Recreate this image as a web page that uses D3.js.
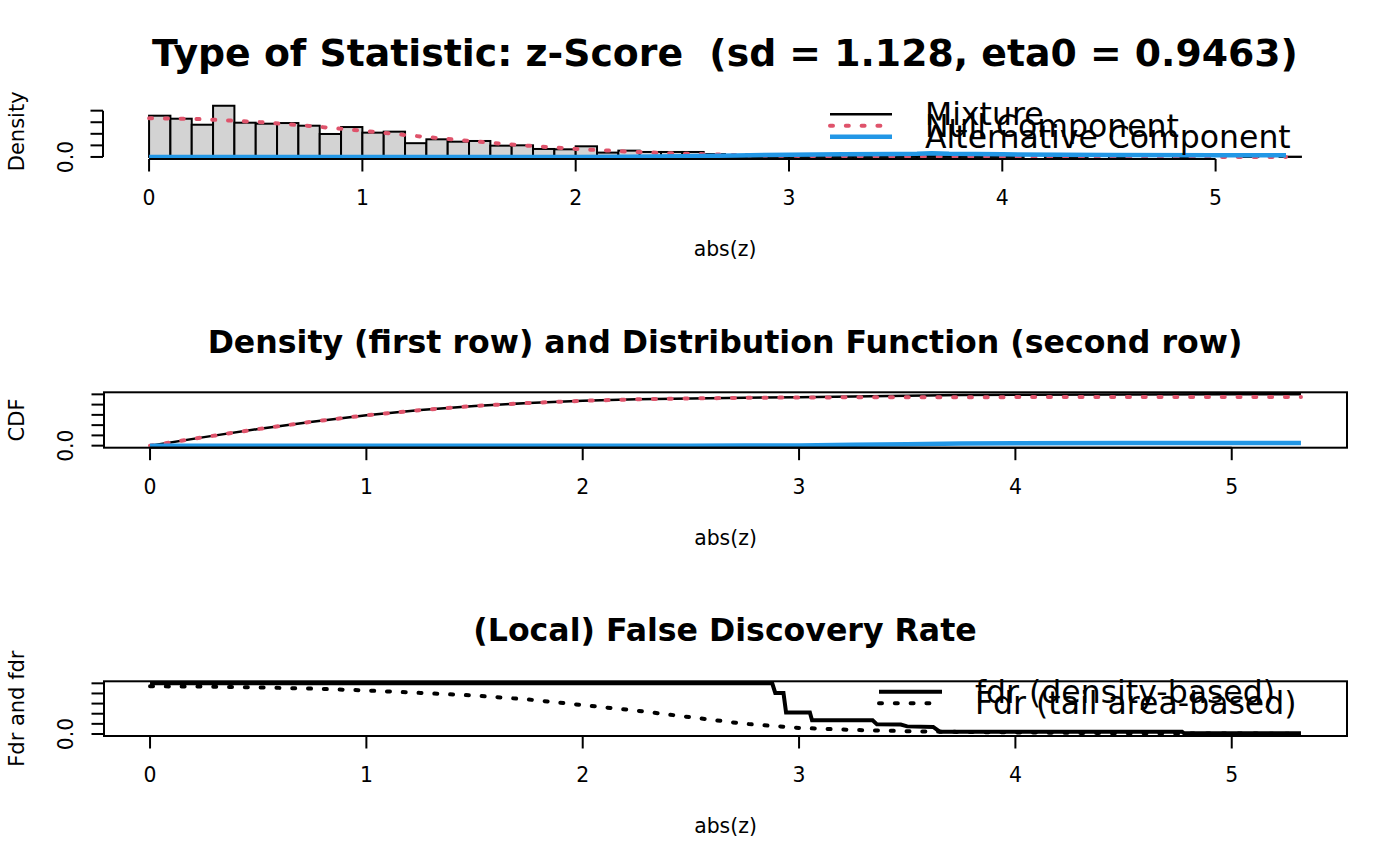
<!DOCTYPE html>
<html>
<head>
<meta charset="utf-8">
<script src="https://cdn.jsdelivr.net/npm/d3@7"></script>
<style>
  body { margin: 0; background: #fff; }
  svg { display: block; font-family: "DejaVu Sans", sans-serif; }
  text { white-space: pre; }
</style>
</head>
<body>
<div id="chart"></div>
<script>
// ---- data ----
var histBreaks = d3.range(0, 55).map(function(i) { return +(i * 0.1).toFixed(1); });
var histDensity = [0.713, 0.661, 0.557, 0.885, 0.592, 0.575, 0.586, 0.540, 0.397, 0.517,
                   0.420, 0.437, 0.238, 0.305, 0.264, 0.276, 0.195, 0.201, 0.138, 0.132,
                   0.184, 0.075, 0.109, 0.086, 0.086, 0.086, 0.050, 0.030, 0.045, 0.015,
                   0.045, 0.020, 0.010, 0.020, 0.030, 0.020, 0.030, 0.010, 0.020, 0.010,
                   0.005, 0.000, 0.005, 0.005, 0.000, 0.005, 0.000, 0.000, 0.005, 0.000,
                   0.000, 0.005, 0.000, 0.005];

var densZ    = [0, 0.25, 0.5, 0.75, 1, 1.25, 1.5, 1.75, 2, 2.25, 2.5, 2.75, 3, 3.25, 3.5, 3.6, 3.67, 3.75, 4, 4.5, 5, 5.33];
var densNull = [0.669, 0.653, 0.607, 0.537, 0.452, 0.362, 0.276, 0.201, 0.139, 0.092, 0.057, 0.034, 0.020, 0.011, 0.005, 0.004, 0.004, 0.003, 0.001, 0.0002, 0, 0];
var densAlt  = [0, 0, 0, 0, 0, 0, 0, 0, 0, 0.003, 0.010, 0.025, 0.040, 0.045, 0.050, 0.055, 0.065, 0.055, 0.045, 0.035, 0.030, 0.030];

var cdfZ    = [0, 0.25, 0.5, 0.75, 1, 1.25, 1.5, 1.75, 2, 2.25, 2.5, 2.75, 3, 3.25, 3.5, 3.75, 4, 4.5, 5, 5.32];
var cdfNull = [0, 0.166, 0.324, 0.467, 0.591, 0.693, 0.773, 0.832, 0.874, 0.903, 0.921, 0.932, 0.939, 0.942, 0.944, 0.945, 0.946, 0.946, 0.946, 0.946];
var cdfAlt  = [0, 0, 0, 0, 0, 0, 0, 0, 0, 0, 0, 0.001, 0.005, 0.016, 0.029, 0.041, 0.048, 0.052, 0.054, 0.054];
var cdfMix  = [0, 0.166, 0.324, 0.467, 0.591, 0.693, 0.773, 0.832, 0.874, 0.903, 0.921, 0.933, 0.944, 0.958, 0.973, 0.986, 0.994, 0.998, 1.000, 1.000];

var fdrZ   = [0, 2.876, 2.89, 2.928, 2.94, 3.05, 3.06, 3.34, 3.36, 3.47, 3.50, 3.62, 3.65, 4.77, 4.78, 5.32];
var fdrVal = [1, 1, 0.81, 0.81, 0.423, 0.423, 0.27, 0.27, 0.19, 0.185, 0.15, 0.14, 0.046, 0.046, 0.012, 0.012];

var FdrZ   = [0, 0.25, 0.5, 0.75, 1, 1.25, 1.5, 1.75, 2, 2.25, 2.5, 2.75, 3, 3.25, 3.5, 3.75, 4, 4.5, 5, 5.32];
var FdrVal = [0.942, 0.935, 0.92, 0.895, 0.86, 0.81, 0.76, 0.68, 0.57, 0.46, 0.33, 0.20, 0.12, 0.08, 0.055, 0.04, 0.03, 0.015, 0.008, 0.005];

var xTicks = [0, 1, 2, 3, 4, 5];
var mainTitle = "Type of Statistic: z-Score  (sd = 1.128, eta0 = 0.9463)";
var panelTitles = ["Density (first row) and Distribution Function (second row)", "(Local) False Discovery Rate"];
var legendTop = ["Mixture", "Null Component", "Alternative Component"];
var legendBottom = ["fdr (density-based)", "Fdr (tail area-based)"];

// ---- drawing ----
var width = 1400, height = 866;
var red = "#DF536B", blue = "#2297E6";
var axisFont = 20.4, titleFont = 31.6, legendFont = 31.5;

var svg = d3.select("#chart").append("svg")
  .attr("width", width).attr("height", height);

function pairs(xs, ys) { return xs.map(function(x, i) { return [x, ys[i]]; }); }

function drawXAxis(g, x, y0, left, right) {
  g.append("line").attr("x1", x(xTicks[0])).attr("x2", x(xTicks[xTicks.length - 1]))
    .attr("y1", y0).attr("y2", y0).attr("stroke", "#000").attr("stroke-width", 2);
  g.selectAll(null).data(xTicks).enter().append("line")
    .attr("x1", function(d) { return x(d); }).attr("x2", function(d) { return x(d); })
    .attr("y1", y0).attr("y2", y0 + 12.5).attr("stroke", "#000").attr("stroke-width", 2);
  g.selectAll(null).data(xTicks).enter().append("text")
    .attr("x", function(d) { return x(d); }).attr("y", y0 + 46)
    .attr("text-anchor", "middle").attr("font-size", axisFont)
    .text(function(d) { return d; });
  g.append("text").attr("x", (left + right) / 2).attr("y", y0 + 97)
    .attr("text-anchor", "middle").attr("font-size", axisFont).text("abs(z)");
}

function drawYAxis(g, y, ticks, xEdge, label) {
  g.append("line").attr("x1", xEdge).attr("x2", xEdge)
    .attr("y1", y(ticks[0])).attr("y2", y(ticks[ticks.length - 1]))
    .attr("stroke", "#000").attr("stroke-width", 2);
  g.selectAll(null).data(ticks).enter().append("line")
    .attr("x1", xEdge - 12.5).attr("x2", xEdge)
    .attr("y1", function(d) { return y(d); }).attr("y2", function(d) { return y(d); })
    .attr("stroke", "#000").attr("stroke-width", 2);
  // only the first label survives R's overlap check
  g.append("text").attr("transform", "translate(73," + y(ticks[0]) + ") rotate(-90)")
    .attr("text-anchor", "middle").attr("font-size", axisFont).text("0.0");
  var r = y.range();
  g.append("text").attr("transform", "translate(24," + (r[0] + r[1]) / 2 + ") rotate(-90)")
    .attr("text-anchor", "middle").attr("font-size", 21).text(label);
}

var lineGen = function(x, y) {
  return d3.line().x(function(d) { return x(d[0]); }).y(function(d) { return y(d[1]); });
};

// ---- panel 1: histogram ----
var x1 = d3.scaleLinear().domain([-0.216, 5.616]).range([103, 1347]);
var y1 = d3.scaleLinear().domain([-0.0354, 0.9204]).range([159, 103.7]);
var p1 = svg.append("g");

p1.append("text").attr("x", 725).attr("y", 66).attr("text-anchor", "middle")
  .attr("font-size", 37.8).attr("font-weight", "bold").text(mainTitle);

p1.selectAll("rect.bar").data(histDensity).enter().append("rect")
  .attr("class", "bar")
  .attr("x", function(d, i) { return x1(histBreaks[i]); })
  .attr("width", function(d, i) { return x1(histBreaks[i + 1]) - x1(histBreaks[i]); })
  .attr("y", function(d) { return y1(d); })
  .attr("height", function(d) { return y1(0) - y1(d); })
  .attr("fill", "#D3D3D3").attr("stroke", "#000").attr("stroke-width", 2);

p1.append("path").datum(pairs(densZ, densNull))
  .attr("d", lineGen(x1, y1)).attr("fill", "none").attr("stroke", red)
  .attr("stroke-width", 4).attr("stroke-dasharray", "3,12.8").attr("stroke-linecap", "round");
p1.append("path").datum(pairs(densZ, densAlt))
  .attr("d", lineGen(x1, y1)).attr("fill", "none").attr("stroke", blue).attr("stroke-width", 4.5);

drawXAxis(p1, x1, 159, 103, 1347);
drawYAxis(p1, y1, [0, 0.2, 0.4, 0.6, 0.8], 103, "Density");

var legTopY = [114.3, 125.7, 136.7];
var legTopStyle = [
  { stroke: "#000", w: 2.5, dash: null },
  { stroke: red, w: 4, dash: "3,12.8" },
  { stroke: blue, w: 4.5, dash: null }
];
legendTop.forEach(function(t, i) {
  var s = legTopStyle[i];
  var l = p1.append("line").attr("x1", 830).attr("x2", 892)
    .attr("y1", legTopY[i]).attr("y2", legTopY[i])
    .attr("stroke", s.stroke).attr("stroke-width", s.w).attr("stroke-linecap", s.dash ? "round" : "butt");
  if (s.dash) l.attr("stroke-dasharray", s.dash);
  p1.append("text").attr("x", 925).attr("y", legTopY[i] + 11)
    .attr("font-size", legendFont).text(t);
});

// ---- panel 2: CDF ----
var x2 = d3.scaleLinear().domain([-0.2128, 5.5328]).range([104, 1347]);
var y2 = d3.scaleLinear().domain([-0.04, 1.04]).range([447.7, 392.3]);
var p2 = svg.append("g");

p2.append("text").attr("x", 725).attr("y", 353).attr("text-anchor", "middle")
  .attr("font-size", titleFont).attr("font-weight", "bold").text(panelTitles[0]);

p2.append("path").datum(pairs(cdfZ, cdfMix))
  .attr("d", lineGen(x2, y2)).attr("fill", "none").attr("stroke", "#000").attr("stroke-width", 2.5);
p2.append("path").datum(pairs(cdfZ, cdfNull))
  .attr("d", lineGen(x2, y2)).attr("fill", "none").attr("stroke", red)
  .attr("stroke-width", 4).attr("stroke-dasharray", "3,12.8").attr("stroke-linecap", "round");
p2.append("path").datum(pairs(cdfZ, cdfAlt))
  .attr("d", lineGen(x2, y2)).attr("fill", "none").attr("stroke", blue).attr("stroke-width", 4.5);

p2.append("rect").attr("x", 104).attr("y", 392.3).attr("width", 1243).attr("height", 55.4)
  .attr("fill", "none").attr("stroke", "#000").attr("stroke-width", 2);
drawXAxis(p2, x2, 447.7, 104, 1347);
drawYAxis(p2, y2, [0, 0.2, 0.4, 0.6, 0.8, 1.0], 104, "CDF");

// ---- panel 3: fdr / Fdr ----
var y3 = d3.scaleLinear().domain([-0.04, 1.04]).range([736, 681.3]);
var p3 = svg.append("g");

p3.append("text").attr("x", 725).attr("y", 641).attr("text-anchor", "middle")
  .attr("font-size", titleFont).attr("font-weight", "bold").text(panelTitles[1]);

p3.append("path").datum(pairs(fdrZ, fdrVal))
  .attr("d", lineGen(x2, y3)).attr("fill", "none").attr("stroke", "#000").attr("stroke-width", 4);
p3.append("path").datum(pairs(FdrZ, FdrVal))
  .attr("d", lineGen(x2, y3)).attr("fill", "none").attr("stroke", "#000")
  .attr("stroke-width", 4).attr("stroke-dasharray", "3,12.8").attr("stroke-linecap", "round");

p3.append("rect").attr("x", 104).attr("y", 681.3).attr("width", 1243).attr("height", 54.7)
  .attr("fill", "none").attr("stroke", "#000").attr("stroke-width", 2);
drawXAxis(p3, x2, 736, 104, 1347);
drawYAxis(p3, y3, [0, 0.2, 0.4, 0.6, 0.8, 1.0], 104, "Fdr and fdr");

var legBotY = [691.7, 703.3];
legendBottom.forEach(function(t, i) {
  var l = p3.append("line").attr("x1", 879).attr("x2", 942)
    .attr("y1", legBotY[i]).attr("y2", legBotY[i])
    .attr("stroke", "#000").attr("stroke-width", 4)
    .attr("stroke-linecap", i ? "round" : "butt");
  if (i) l.attr("stroke-dasharray", "3,12.8");
  p3.append("text").attr("x", 975).attr("y", legBotY[i] + 11)
    .attr("font-size", legendFont).text(t);
});
</script>
</body>
</html>
